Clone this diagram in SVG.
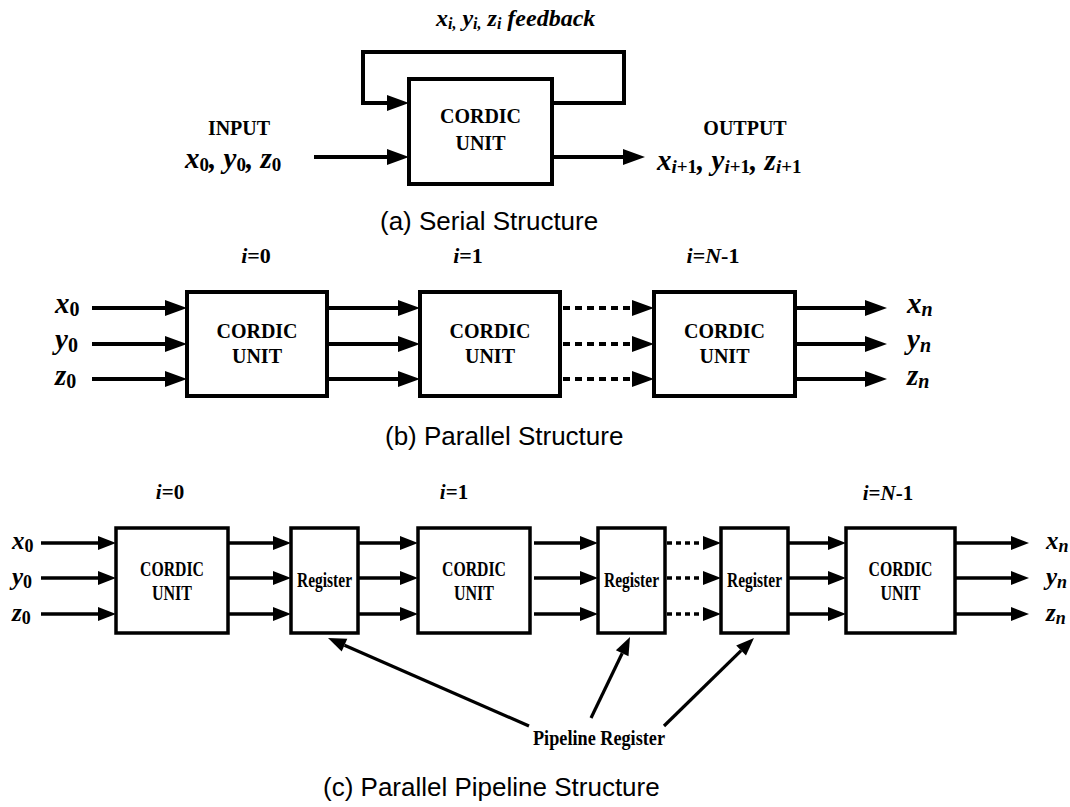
<svg xmlns="http://www.w3.org/2000/svg" width="1070" height="807" viewBox="0 0 1070 807">
  <defs>
    <marker id="ah" markerUnits="userSpaceOnUse" markerWidth="22" markerHeight="16" refX="0" refY="8" orient="auto" overflow="visible">
      <path d="M0,0 L22,8 L0,16 z" fill="#000"/>
    </marker>
    <marker id="ahs" markerUnits="userSpaceOnUse" markerWidth="18" markerHeight="14" refX="0" refY="7" orient="auto" overflow="visible">
      <path d="M0,0 L18,7 L0,14 z" fill="#000"/>
    </marker>
    <style>
      .box { fill: #fff; stroke: #000; stroke-width: 4; }
      .boxc { fill: #fff; stroke: #000; stroke-width: 3.5; }
      .wire { fill: none; stroke: #000; stroke-width: 4; marker-end: url(#ah); }
      .wirec { fill: none; stroke: #000; stroke-width: 3.5; marker-end: url(#ahs); }
      .dash { stroke-dasharray: 7 5; }
      .dot { stroke-dasharray: 5 4; }
      .ptr { fill: none; stroke: #000; stroke-width: 3.2; marker-end: url(#ahs); }
      .lbl { font-family: "Liberation Serif", "Times New Roman", serif; font-weight: bold; font-size: 20px; text-anchor: middle; fill: #000; }
      .var { font-family: "Liberation Serif", "Times New Roman", serif; font-weight: bold; font-style: italic; fill: #000; }
      .up { font-style: normal; }
      .cap { font-family: "Liberation Sans", Arial, sans-serif; font-size: 26px; fill: #000; }
    </style>
  </defs>
  <rect width="1070" height="807" fill="#fff"/>

  <!-- (a) serial structure -->
  <g id="serial-unit">
    <rect class="box" x="409" y="79" width="143" height="105"/>
    <text class="lbl" x="480.5" y="123">CORDIC</text>
    <text class="lbl" x="480.5" y="150">UNIT</text>
  </g>
  <g id="serial-feedback-label">
    <text class="var" x="436" y="26" font-size="24">x<tspan font-size="16" dy="3">i,</tspan><tspan dy="-3"> y</tspan><tspan font-size="16" dy="3">i,</tspan><tspan dy="-3"> z</tspan><tspan font-size="16" dy="3">i</tspan><tspan dy="-3">  feedback</tspan></text>
  </g>
  <g id="serial-input">
    <text class="lbl" x="239" y="135">INPUT</text>
    <text class="var" x="185" y="168" font-size="29">x<tspan class="up" font-size="19" dy="3">0</tspan><tspan dy="-3">, y</tspan><tspan class="up" font-size="19" dy="3">0</tspan><tspan dy="-3">, z</tspan><tspan class="up" font-size="19" dy="3">0</tspan></text>
  </g>
  <g id="serial-output">
    <text class="lbl" x="745" y="135">OUTPUT</text>
    <text class="var" x="657" y="170" font-size="29">x<tspan font-size="19" dy="3">i</tspan><tspan class="up" font-size="19">+1</tspan><tspan dy="-3">, y</tspan><tspan font-size="19" dy="3">i</tspan><tspan class="up" font-size="19">+1</tspan><tspan dy="-3">, z</tspan><tspan font-size="19" dy="3">i</tspan><tspan class="up" font-size="19">+1</tspan></text>
  </g>
  <text class="cap" x="380" y="230">(a) Serial Structure</text>

  <!-- (b) parallel structure -->
  <g id="par-unit-0">
    <rect class="box" x="187" y="292" width="140" height="104"/>
    <text class="lbl" x="257" y="338">CORDIC</text>
    <text class="lbl" x="257" y="363">UNIT</text>
  </g>
  <g id="par-unit-1">
    <rect class="box" x="420" y="292" width="140" height="104"/>
    <text class="lbl" x="490" y="338">CORDIC</text>
    <text class="lbl" x="490" y="363">UNIT</text>
  </g>
  <g id="par-unit-n">
    <rect class="box" x="654" y="292" width="141" height="104"/>
    <text class="lbl" x="724.5" y="338">CORDIC</text>
    <text class="lbl" x="724.5" y="363">UNIT</text>
  </g>
  <g id="par-stage-labels">
    <text class="var" x="256" y="263" font-size="22" text-anchor="middle">i<tspan class="up">=0</tspan></text>
    <text class="var" x="468" y="263" font-size="22" text-anchor="middle">i<tspan class="up">=1</tspan></text>
    <text class="var" x="713" y="263" font-size="22" text-anchor="middle">i<tspan class="up">=</tspan>N<tspan class="up">-1</tspan></text>
  </g>
  <g id="par-io-labels">
    <text class="var" x="55" y="313" font-size="29">x<tspan class="up" font-size="20" dy="3">0</tspan></text>
    <text class="var" x="55" y="349" font-size="29">y<tspan class="up" font-size="20" dy="3">0</tspan></text>
    <text class="var" x="55" y="385" font-size="29">z<tspan class="up" font-size="20" dy="3">0</tspan></text>
    <text class="var" x="907" y="313" font-size="29">x<tspan font-size="20" dy="3">n</tspan></text>
    <text class="var" x="907" y="349" font-size="29">y<tspan font-size="20" dy="3">n</tspan></text>
    <text class="var" x="907" y="385" font-size="29">z<tspan font-size="20" dy="3">n</tspan></text>
  </g>
  <text class="cap" x="385" y="445">(b) Parallel Structure</text>

  <!-- (c) parallel pipeline structure -->
  <g id="pipe-unit-0">
    <rect class="boxc" x="116" y="528" width="112" height="105"/>
    <text class="lbl" x="172" y="576" textLength="64" lengthAdjust="spacingAndGlyphs">CORDIC</text>
    <text class="lbl" x="172" y="600" textLength="40" lengthAdjust="spacingAndGlyphs">UNIT</text>
  </g>
  <g id="pipe-reg-0">
    <rect class="boxc" x="291" y="528" width="67" height="105"/>
    <text class="lbl" x="324.5" y="587" textLength="55" lengthAdjust="spacingAndGlyphs">Register</text>
  </g>
  <g id="pipe-unit-1">
    <rect class="boxc" x="418" y="528" width="112" height="105"/>
    <text class="lbl" x="474" y="576" textLength="64" lengthAdjust="spacingAndGlyphs">CORDIC</text>
    <text class="lbl" x="474" y="600" textLength="40" lengthAdjust="spacingAndGlyphs">UNIT</text>
  </g>
  <g id="pipe-reg-1">
    <rect class="boxc" x="598" y="528" width="67" height="105"/>
    <text class="lbl" x="631.5" y="587" textLength="55" lengthAdjust="spacingAndGlyphs">Register</text>
  </g>
  <g id="pipe-reg-n">
    <rect class="boxc" x="721" y="528" width="67" height="105"/>
    <text class="lbl" x="754.5" y="587" textLength="55" lengthAdjust="spacingAndGlyphs">Register</text>
  </g>
  <g id="pipe-unit-n">
    <rect class="boxc" x="846" y="528" width="109" height="105"/>
    <text class="lbl" x="900.5" y="576" textLength="64" lengthAdjust="spacingAndGlyphs">CORDIC</text>
    <text class="lbl" x="900.5" y="600" textLength="40" lengthAdjust="spacingAndGlyphs">UNIT</text>
  </g>
  <g id="pipe-stage-labels">
    <text class="var" x="170" y="499" font-size="21" text-anchor="middle">i<tspan class="up">=0</tspan></text>
    <text class="var" x="454" y="499" font-size="21" text-anchor="middle">i<tspan class="up">=1</tspan></text>
    <text class="var" x="888" y="500" font-size="21" text-anchor="middle">i<tspan class="up">=</tspan>N<tspan class="up">-1</tspan></text>
  </g>
  <g id="pipe-io-labels">
    <text class="var" x="12" y="549" font-size="25">x<tspan class="up" font-size="18" dy="3">0</tspan></text>
    <text class="var" x="12" y="585" font-size="25">y<tspan class="up" font-size="18" dy="3">0</tspan></text>
    <text class="var" x="12" y="621" font-size="25">z<tspan class="up" font-size="18" dy="3">0</tspan></text>
    <text class="var" x="1046" y="549" font-size="25">x<tspan font-size="18" dy="3">n</tspan></text>
    <text class="var" x="1046" y="585" font-size="25">y<tspan font-size="18" dy="3">n</tspan></text>
    <text class="var" x="1046" y="621" font-size="25">z<tspan font-size="18" dy="3">n</tspan></text>
  </g>
  <g id="pipe-note">
    <text class="lbl" x="533" y="745" text-anchor="start" font-size="22" textLength="132" lengthAdjust="spacingAndGlyphs" style="text-anchor:start">Pipeline Register</text>
  </g>
  <text class="cap" x="323" y="796">(c) Parallel Pipeline Structure</text>

  <!-- connectors -->
  <g id="connectors">
    <!-- (a) -->
    <path class="wire" d="M552,103 H624 V52 H363 V103 H387"/>
    <path class="wire" d="M314,157 H387"/>
    <path class="wire" d="M552,157 H623"/>
    <!-- (b) -->
    <path class="wire" d="M92,308 H165"/>
    <path class="wire" d="M92,344 H165"/>
    <path class="wire" d="M92,379 H165"/>
    <path class="wire" d="M327,308 H398"/>
    <path class="wire" d="M327,344 H398"/>
    <path class="wire" d="M327,379 H398"/>
    <path class="wire dash" d="M563,308 H632"/>
    <path class="wire dash" d="M563,344 H632"/>
    <path class="wire dash" d="M563,379 H632"/>
    <path class="wire" d="M795,308 H865"/>
    <path class="wire" d="M795,344 H865"/>
    <path class="wire" d="M795,379 H865"/>
    <!-- (c) -->
    <path class="wirec" d="M41,543 H98"/>
    <path class="wirec" d="M41,578 H98"/>
    <path class="wirec" d="M41,614 H98"/>
    <path class="wirec" d="M228,543 H273"/>
    <path class="wirec" d="M228,578 H273"/>
    <path class="wirec" d="M228,614 H273"/>
    <path class="wirec" d="M358,543 H400"/>
    <path class="wirec" d="M358,578 H400"/>
    <path class="wirec" d="M358,614 H400"/>
    <path class="wirec" d="M534,543 H580"/>
    <path class="wirec" d="M534,578 H580"/>
    <path class="wirec" d="M534,614 H580"/>
    <path class="wirec dot" d="M667,543 H703"/>
    <path class="wirec dot" d="M667,578 H703"/>
    <path class="wirec dot" d="M667,614 H703"/>
    <path class="wirec" d="M788,543 H828"/>
    <path class="wirec" d="M788,578 H828"/>
    <path class="wirec" d="M788,614 H828"/>
    <path class="wirec" d="M955,543 H1011"/>
    <path class="wirec" d="M955,578 H1011"/>
    <path class="wirec" d="M955,614 H1011"/>
    <!-- pointers to the pipeline registers -->
    <path class="ptr" d="M529,726 L344.5,645.2"/>
    <path class="ptr" d="M591,718 L622.2,653.2"/>
    <path class="ptr" d="M664,726 L741.1,650.6"/>
  </g>
</svg>
